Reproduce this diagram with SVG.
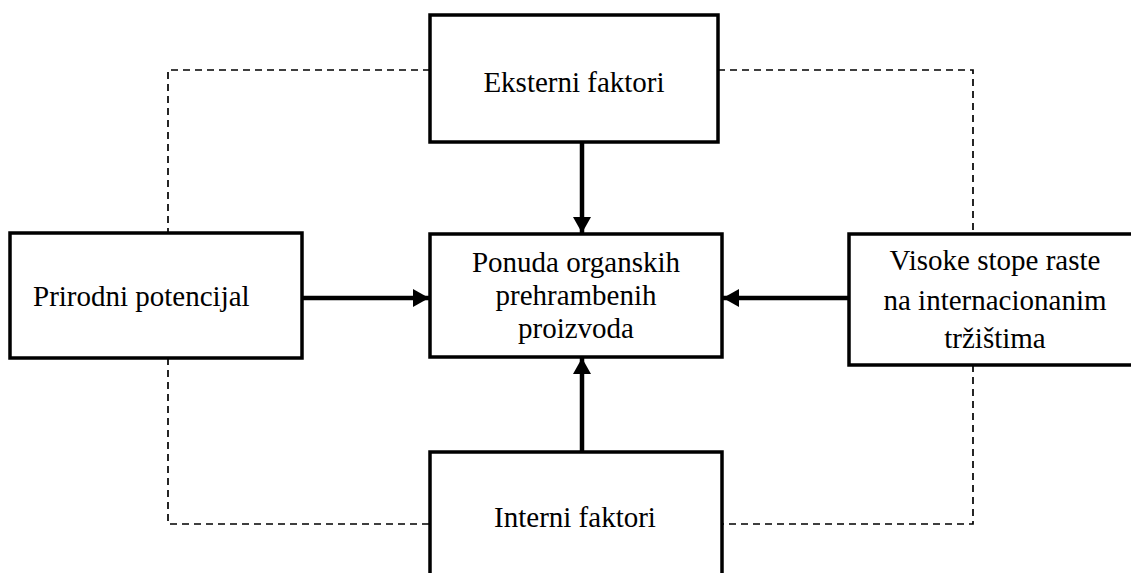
<svg xmlns="http://www.w3.org/2000/svg" width="1131" height="573" viewBox="0 0 1131 573">
<style>
.box{fill:#fff;stroke:#000;stroke-width:3.5}
.lbl{font-family:"Liberation Serif","Times New Roman",serif;font-size:29px;fill:#000}
.arr{stroke:#000;stroke-width:4.5;fill:none}
.dash{stroke:#000;stroke-width:1.7;fill:none;stroke-dasharray:7 5}
</style>
<defs>
<marker id="ah" markerUnits="userSpaceOnUse" viewBox="0 0 16 18" refX="16" refY="9" markerWidth="16" markerHeight="18" orient="auto">
<path d="M0,0 L16,9 L0,18 Z" fill="#000"/>
</marker>
</defs>
<g id="connectors">
<path class="dash" d="M430,70 H168 V233"/>
<path class="dash" d="M168,358 V524 H430"/>
<path class="dash" d="M718,70 H973 V234"/>
<path class="dash" d="M973,365 V524 H722"/>
<line class="arr" x1="582" y1="142" x2="582" y2="233" marker-end="url(#ah)"/>
<line class="arr" x1="302" y1="298" x2="429" y2="298" marker-end="url(#ah)"/>
<line class="arr" x1="848" y1="298" x2="723" y2="298" marker-end="url(#ah)"/>
<line class="arr" x1="582" y1="452" x2="582" y2="358" marker-end="url(#ah)"/>
</g>
<g id="eksterni">
<rect class="box" x="430" y="15" width="288" height="127"/>
<text class="lbl" x="574" y="92" text-anchor="middle">Eksterni faktori</text>
</g>
<g id="prirodni">
<rect class="box" x="10" y="233" width="292" height="125"/>
<text class="lbl" x="33" y="306">Prirodni potencijal</text>
</g>
<g id="ponuda">
<rect class="box" x="430" y="234" width="292" height="123"/>
<text class="lbl" text-anchor="middle"><tspan x="576" y="272">Ponuda organskih</tspan><tspan x="576" y="305">prehrambenih</tspan><tspan x="576" y="338">proizvoda</tspan></text>
</g>
<g id="visoke">
<rect class="box" x="849" y="234" width="290" height="131"/>
<text class="lbl" text-anchor="middle"><tspan x="995" y="270">Visoke stope raste</tspan><tspan x="995" y="310">na internacionanim</tspan><tspan x="995" y="348">tržištima</tspan></text>
</g>
<g id="interni">
<rect class="box" x="430" y="452" width="292" height="140"/>
<text class="lbl" x="575" y="527" text-anchor="middle">Interni faktori</text>
</g>
</svg>
